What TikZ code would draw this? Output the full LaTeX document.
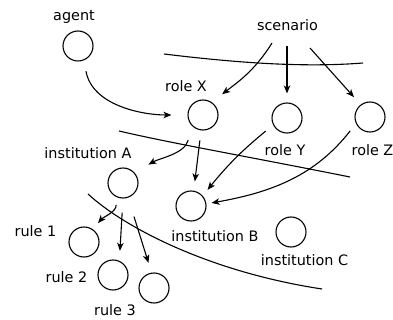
\documentclass[tikz,border=0pt]{standalone}
\usepackage{fontspec}
\setmainfont{DejaVu Sans}
\usetikzlibrary{arrows.meta}
\begin{document}
\begin{tikzpicture}[x=1pt,y=-1pt,line width=1.1pt,
  state/.style={draw,circle,minimum size=30pt,inner sep=0pt},
  lbl/.style={anchor=base,inner sep=0pt,font=\fontsize{14.4}{17}\selectfont},
  arr/.style={-{Stealth[length=8pt,width=6.5pt,inset=2.2pt]}},
  bound/.style={line width=1.1pt}]
\useasboundingbox (0,0) rectangle (393,320);
% circles
\node[state] (agent) at (78,46) {};
\node[state] (rx) at (203,115) {};
\node[state] (ry) at (287,118) {};
\node[state] (rz) at (370,117) {};
\node[state] (ia) at (123,183) {};
\node[state] (ib) at (191,206) {};
\node[state] (ic) at (291,232) {};
\node[state] (r1) at (84,242) {};
\node[state] (r2) at (113,275) {};
\node[state] (r3) at (154,288) {};
% labels
\node[lbl] (tagent) at (74,20.5) {agent};
\node[lbl] (tscen) at (287.5,30.5) {scenario};
\node[lbl] (trx) at (186,91.5) {role X};
\node[lbl] (try) at (285,155.5) {role Y};
\node[lbl] (trz) at (372.5,155.5) {role Z};
\node[lbl] (tia) at (88,159) {institution A};
\node[lbl] (tib) at (215,241) {institution B};
\node[lbl] (tic) at (304.5,265) {institution C};
\node[lbl] (tr1) at (35.5,236.5) {rule 1};
\node[lbl] (tr2) at (66.5,282.5) {rule 2};
\node[lbl] (tr3) at (115,315.5) {rule 3};
% boundaries
\draw[bound] (164,54) .. controls (230,62) and (300,68) .. (363,63);
\draw[bound] (119,131) .. controls (170,143) and (250,157) .. (350,177);
\draw[bound] (88,194) .. controls (125,228) and (210,272) .. (322,289);
% scenario free ends
\coordinate (s1) at (272,43);
\coordinate (s2) at (287,46);
\coordinate (s3) at (310,48);
% arrows
\draw[arr,shorten <=11pt,shorten >=16pt] (agent.-67) to[out=-80,in=180] (rx.180);
\draw[arr,shorten >=13pt] (s1) to[out=-122,in=38] (rx.55);
\draw[arr,shorten >=9pt] (s2) -- (ry.90);
\draw[arr,shorten >=10pt] (s3) -- (rz.127);
\draw[arr,shorten <=14.7pt,shorten >=16pt] (rx.-135) to[out=-105,in=30] (ia.42);
\draw[arr,shorten <=10pt,shorten >=9.3pt] (rx.-97) -- (ib.80.5);
\draw[arr,shorten <=9.6pt,shorten >=7.7pt] (ry.-153) to[bend right=6] (ib.41.4);
\draw[arr,shorten <=9.2pt,shorten >=5.2pt] (rz.-155.6) to[out=-128,in=10] (ib.8.5);
\draw[arr,shorten <=8.9pt,shorten >=8pt] (ia.-123) to[out=-80,in=50] (r1.55.6);
\draw[arr,shorten <=14pt,shorten >=10pt] (ia.-90) -- (r2.66.5);
\draw[arr,shorten <=19.8pt,shorten >=10.3pt] (ia.-71.6) -- (r3.99);
\end{tikzpicture}
\end{document}
